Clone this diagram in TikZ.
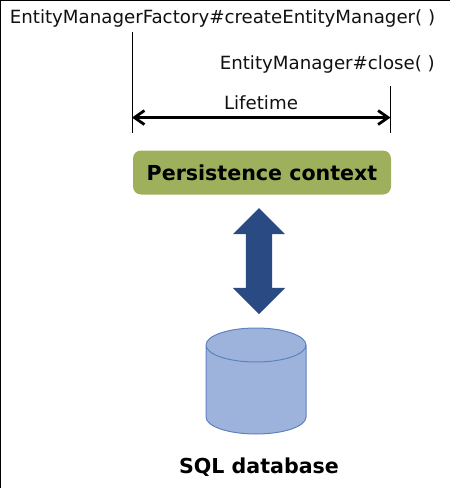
\documentclass[tikz,border=0pt]{standalone}
\usepackage{fontspec}
\setmainfont{DejaVu Sans}
\usepackage{tikz}
\usetikzlibrary{calc,shapes.geometric,shapes.arrows,arrows.meta}

\definecolor{contextgreen}{HTML}{9FB05D}
\definecolor{arrowblue}{HTML}{2A4A84}
\definecolor{dbfill}{HTML}{9DB3DC}
\definecolor{dbline}{HTML}{5F82BE}
\definecolor{inktext}{HTML}{111111}

\tikzset{
  calltext/.style={inner sep=0pt,text=inktext,font=\fontsize{18.2}{21}\selectfont},
  boldtext/.style={inner sep=0pt,text=black,font=\fontsize{20.6}{24}\selectfont\bfseries},
  tickline/.style={draw=black,line width=0.8pt}
}

\begin{document}
\begin{tikzpicture}[x=1pt,y=-1pt]
  \useasboundingbox (0,0) rectangle (450,488);

  %% Frame on the left and top edges
  \coordinate (FL) at (0.5,488);
  \coordinate (FC) at (0.5,0.5);
  \coordinate (FR) at (450,0.5);
  \draw[line width=1pt] (FL) -- (FC) -- (FR);

  %% Method names
  \node[calltext] (CREATE) at (222.5,18) {EntityManagerFactory\#createEntityManager( )};
  \node[calltext,anchor=east] (CLOSE) at (435,64) {EntityManager\#close( )};

  %% Lifetime ticks and arrow
  \coordinate (T1) at (132,32);
  \coordinate (B1) at (132,133);
  \coordinate (T2) at (390.5,86);
  \coordinate (B2) at (390.5,133);
  \draw[tickline] (T1) -- (B1);
  \draw[tickline] (T2) -- (B2);
  \coordinate (L1) at ($(T1)!0.847!(B1)$);
  \coordinate (L2) at (L1-|T2);
  \draw[{Straight Barb[length=10pt,width=14pt]}-{Straight Barb[length=10pt,width=14pt]},line width=2.8pt,draw=black] (L1) -- (L2);
  \node[calltext] (LIFE) at (261,103) {Lifetime};

  %% Persistence context box
  \node[fill=contextgreen,rounded corners=8pt,minimum width=258pt,minimum height=44pt,inner sep=0pt,
        boldtext] (PC) at (262,172.5) {Persistence context};

  %% Two-way arrow
  \node[double arrow,fill=arrowblue,rotate=90,minimum height=106pt,inner xsep=0pt,inner ysep=13pt,
        double arrow head extend=13pt,double arrow head indent=0pt] (LINK) at (259,261) {};

  %% Database
  \node[cylinder,shape border rotate=90,shape aspect=0.34,draw=dbline,fill=dbfill,line width=1pt,
        minimum height=106pt,inner xsep=50pt,inner ysep=0pt,anchor=shape center] (DB) at (256,381) {};
  \node[boldtext] (DBNAME) at (259,467) {SQL database};
\end{tikzpicture}
\end{document}
